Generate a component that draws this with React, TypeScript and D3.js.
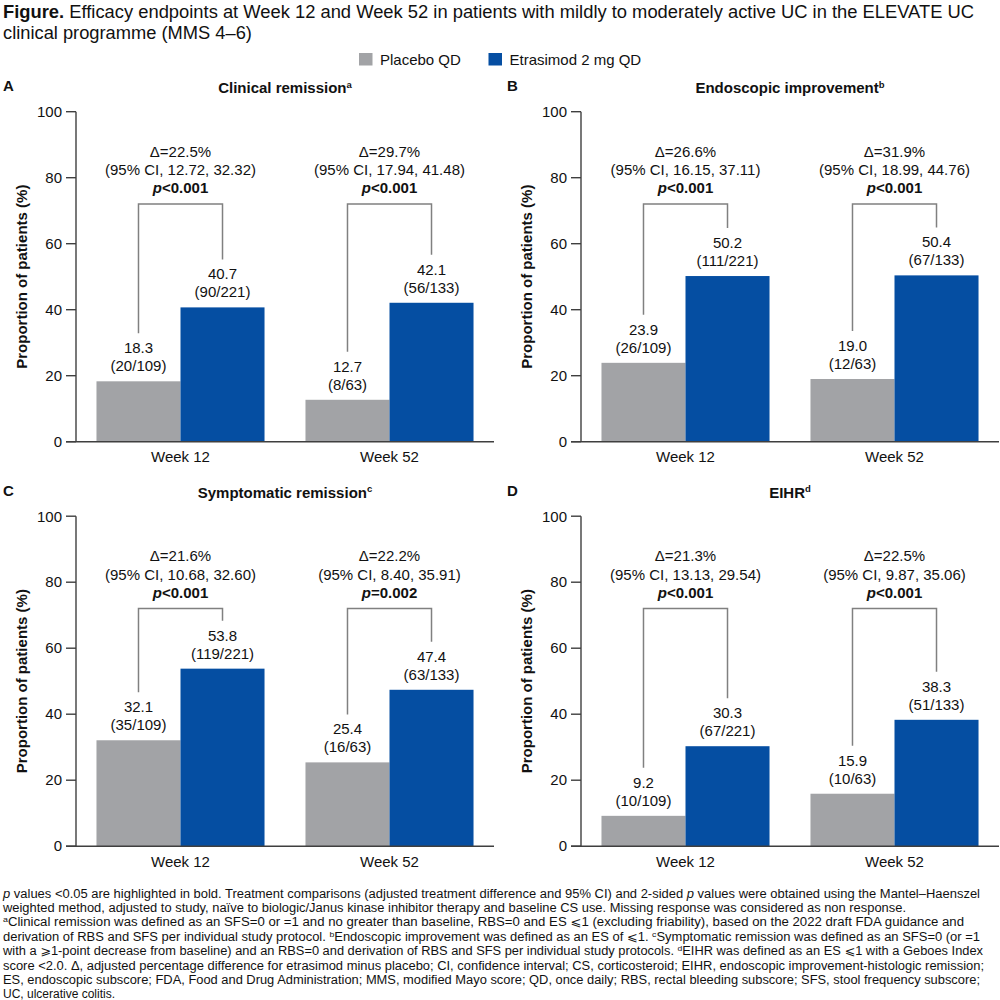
import React from "react";
import * as d3 from "d3";

// ---------- data ----------
const weeks = ["Week 12", "Week 52"];
const seriesNames = ["Placebo QD", "Etrasimod 2 mg QD"];
const panelLetters = ["A", "B", "C", "D"];
const panelTitles = ["Clinical remission", "Endoscopic improvement", "Symptomatic remission", "EIHR"];
const panelSups = ["a", "b", "c", "d"];
const placeboValues = [
  [18.3, 12.7],
  [23.9, 19.0],
  [32.1, 25.4],
  [9.2, 15.9],
];
const placeboCounts = [
  ["20/109", "8/63"],
  ["26/109", "12/63"],
  ["35/109", "16/63"],
  ["10/109", "10/63"],
];
const etrasimodValues = [
  [40.7, 42.1],
  [50.2, 50.4],
  [53.8, 47.4],
  [30.3, 38.3],
];
const etrasimodCounts = [
  ["90/221", "56/133"],
  ["111/221", "67/133"],
  ["119/221", "63/133"],
  ["67/221", "51/133"],
];
const deltas = [
  ["22.5", "29.7"],
  ["26.6", "31.9"],
  ["21.6", "22.2"],
  ["21.3", "22.5"],
];
const ciLow = [
  ["12.72", "17.94"],
  ["16.15", "18.99"],
  ["10.68", "8.40"],
  ["13.13", "9.87"],
];
const ciHigh = [
  ["32.32", "41.48"],
  ["37.11", "44.76"],
  ["32.60", "35.91"],
  ["29.54", "35.06"],
];
const pValues = [
  ["<0.001", "<0.001"],
  ["<0.001", "<0.001"],
  ["<0.001", "=0.002"],
  ["<0.001", "<0.001"],
];
const yTicks = [0, 20, 40, 60, 80, 100];
const bracketLevel = 72;
const yAxisTitle = "Proportion of patients (%)";

// ---------- style ----------
const FONT = "'Liberation Sans', Arial, 'DejaVu Sans', sans-serif";
const GREY = "#A2A3A6";
const BLUE = "#054EA2";
const AXIS = "#3f3f3f";
const BRACKET = "#808080";
const TEXT = "#111";

const PLOT_W = 418;
const PLOT_H = 330;
const panelOrigins = [
  { x: 76, y: 111.7, lx: 3 },
  { x: 581, y: 111.7, lx: 507 },
  { x: 76, y: 516.2, lx: 3 },
  { x: 581, y: 516.2, lx: 507 },
];

const fmt = d3.format(".1f");

function Panel({ idx }: { idx: number }) {
  const o = panelOrigins[idx];
  const x = d3.scaleBand<string>().domain(weeks).range([0, PLOT_W]).paddingInner(0.196).paddingOuter(0.098);
  const xs = d3.scaleBand<string>().domain(seriesNames).range([0, x.bandwidth()]).padding(0);
  const y = d3.scaleLinear().domain([0, 100]).range([PLOT_H, 0]);
  const vals = [placeboValues[idx], etrasimodValues[idx]];
  const counts = [placeboCounts[idx], etrasimodCounts[idx]];
  const colors = [GREY, BLUE];
  return (
    <g transform={`translate(${o.x},${o.y})`}>
      {/* panel letter and title */}
      <text x={o.lx - o.x} y={-20.5} fontSize={15} fontWeight="bold" fill={TEXT}>
        {panelLetters[idx]}
      </text>
      <text x={PLOT_W / 2} y={-18.5} textAnchor="middle" fontSize={15} fontWeight="bold" fill={TEXT}>
        {panelTitles[idx]}
        <tspan fontSize={9.5} dy={-5.5}>{panelSups[idx]}</tspan>
      </text>
      {/* bars */}
      {weeks.map((w, wi) =>
        seriesNames.map((s, si) => {
          const v = vals[si][wi];
          const bx = (x(w) as number) + (xs(s) as number);
          return (
            <rect key={w + s} x={bx} y={y(v)} width={xs.bandwidth()} height={PLOT_H - y(v)} fill={colors[si]} />
          );
        })
      )}
      {/* value labels */}
      {weeks.map((w, wi) =>
        seriesNames.map((s, si) => {
          const v = vals[si][wi];
          const cx = (x(w) as number) + (xs(s) as number) + xs.bandwidth() / 2;
          return (
            <g key={"l" + w + s} fontSize={15} fill={TEXT} textAnchor="middle">
              <text x={cx} y={y(v) - 28}>{fmt(v)}</text>
              <text x={cx} y={y(v) - 10}>({counts[si][wi]})</text>
            </g>
          );
        })
      )}
      {/* brackets */}
      {weeks.map((w, wi) => {
        const lx = (x(w) as number) + (xs(seriesNames[0]) as number) + xs.bandwidth() / 2;
        const rx = (x(w) as number) + (xs(seriesNames[1]) as number) + xs.bandwidth() / 2;
        const top = y(bracketLevel);
        const ly = y(vals[0][wi]) - 48;
        const ry = y(vals[1][wi]) - 48;
        const path = d3.path();
        path.moveTo(lx, ly);
        path.lineTo(lx, top);
        path.lineTo(rx, top);
        path.lineTo(rx, ry);
        return <path key={"b" + w} d={path.toString()} fill="none" stroke={BRACKET} strokeWidth={1.5} />;
      })}
      {/* delta annotations */}
      {weeks.map((w, wi) => {
        const cx = (x(w) as number) + x.bandwidth() / 2;
        return (
          <g key={"d" + w} fontSize={15} fill={TEXT} textAnchor="middle">
            <text x={cx} y={45.3}>Δ={deltas[idx][wi]}%</text>
            <text x={cx} y={63.5}>(95% CI, {ciLow[idx][wi]}, {ciHigh[idx][wi]})</text>
            <text x={cx} y={81.5} fontWeight="bold">
              <tspan fontStyle="italic">p</tspan>
              {pValues[idx][wi]}
            </text>
          </g>
        );
      })}
      {/* y axis */}
      <line x1={0} x2={0} y1={0} y2={PLOT_H} stroke={AXIS} strokeWidth={1.4} />
      {yTicks.map((t) => (
        <g key={"t" + t}>
          <line x1={-10} x2={0} y1={y(t)} y2={y(t)} stroke={AXIS} strokeWidth={1.4} />
          <text x={-14} y={y(t) + 5.3} textAnchor="end" fontSize={15} fill={TEXT}>
            {t}
          </text>
        </g>
      ))}
      {/* x axis baseline */}
      <line x1={-10} x2={PLOT_W} y1={PLOT_H} y2={PLOT_H} stroke={AXIS} strokeWidth={1.4} />
      {weeks.map((w) => (
        <text key={"w" + w} x={(x(w) as number) + x.bandwidth() / 2} y={PLOT_H + 20.5} textAnchor="middle" fontSize={15} fill={TEXT}>
          {w}
        </text>
      ))}
      {/* y axis title */}
      <text
        transform={`translate(${-49},${PLOT_H / 2}) rotate(-90)`}
        textAnchor="middle"
        fontSize={15}
        fontWeight="bold"
        fill={TEXT}
      >
        {yAxisTitle}
      </text>
    </g>
  );
}

const footLines: { parts: { t: string; i?: boolean; sup?: boolean }[]; end?: number }[] = [
  {
    parts: [
      { t: "p", i: true },
      { t: " values <0.05 are highlighted in bold. Treatment comparisons (adjusted treatment difference and 95% CI) and 2-sided " },
      { t: "p", i: true },
      { t: " values were obtained using the Mantel–Haenszel" },
    ],
    end: 980,
  },
  {
    parts: [
      { t: "weighted method, adjusted to study, naïve to biologic/Janus kinase inhibitor therapy and baseline CS use. Missing response was considered as non response." },
    ],
    end: 906,
  },
  {
    parts: [
      { t: "a", sup: true },
      { t: "Clinical remission was defined as an SFS=0 or =1 and no greater than baseline, RBS=0 and ES ⩽1 (excluding friability), based on the 2022 draft FDA guidance and" },
    ],
    end: 964,
  },
  {
    parts: [
      { t: "derivation of RBS and SFS per individual study protocol. " },
      { t: "b", sup: true },
      { t: "Endoscopic improvement was defined as an ES of ⩽1. " },
      { t: "c", sup: true },
      { t: "Symptomatic remission was defined as an SFS=0 (or =1" },
    ],
    end: 980,
  },
  {
    parts: [
      { t: "with a ⩾1-point decrease from baseline) and an RBS=0 and derivation of RBS and SFS per individual study protocols. " },
      { t: "d", sup: true },
      { t: "EIHR was defined as an ES ⩽1 with a Geboes Index" },
    ],
    end: 983,
  },
  {
    parts: [
      { t: "score <2.0. Δ, adjusted percentage difference for etrasimod minus placebo; CI, confidence interval; CS, corticosteroid; EIHR, endoscopic improvement-histologic remission;" },
    ],
    end: 984,
  },
  {
    parts: [
      { t: "ES, endoscopic subscore; FDA, Food and Drug Administration; MMS, modified Mayo score; QD, once daily; RBS, rectal bleeding subscore; SFS, stool frequency subscore;" },
    ],
    end: 980,
  },
  { parts: [{ t: "UC, ulcerative colitis." }] },
];

export default function App() {
  return (
    <svg
      width={1000}
      height={1000}
      style={{ position: "absolute", left: 0, top: 0, background: "#fff" }}
      fontFamily={FONT}
    >
      <rect x={0} y={0} width={1000} height={1000} fill="#fff" />
      {/* title */}
      <text x={3} y={18} fontSize={18.3} fill={TEXT} textLength={971} lengthAdjust="spacingAndGlyphs">
        <tspan fontWeight="bold">Figure.</tspan>
        <tspan> Efficacy endpoints at Week 12 and Week 52 in patients with mildly to moderately active UC in the ELEVATE UC</tspan>
      </text>
      <text x={3} y={38.5} fontSize={18.3} fill={TEXT}>
        clinical programme (MMS 4–6)
      </text>
      {/* legend */}
      {seriesNames.map((s, i) => {
        const lx = [359, 488.5][i];
        return (
          <g key={s}>
            <rect x={lx} y={53} width={13.5} height={12.5} fill={[GREY, BLUE][i]} />
            <text x={lx + 21} y={64.5} fontSize={15} fill={TEXT}>
              {s}
            </text>
          </g>
        );
      })}
      {/* panels */}
      {panelLetters.map((_, i) => (
        <Panel key={i} idx={i} />
      ))}
      {/* footnotes */}
      {footLines.map((ln, i) => (
        <text
          key={i}
          x={3}
          y={897.5 + i * 14.4}
          fontSize={12}
          fill={TEXT}
          {...(ln.end ? { textLength: ln.end - 3, lengthAdjust: "spacingAndGlyphs" } : {})}
        >
          {ln.parts.map((p, j) =>
            p.sup ? (
              <tspan key={j} fontSize={8} baselineShift="super">
                {p.t}
              </tspan>
            ) : (
              <tspan key={j} fontStyle={p.i ? "italic" : undefined}>
                {p.t}
              </tspan>
            )
          )}
        </text>
      ))}
    </svg>
  );
}
